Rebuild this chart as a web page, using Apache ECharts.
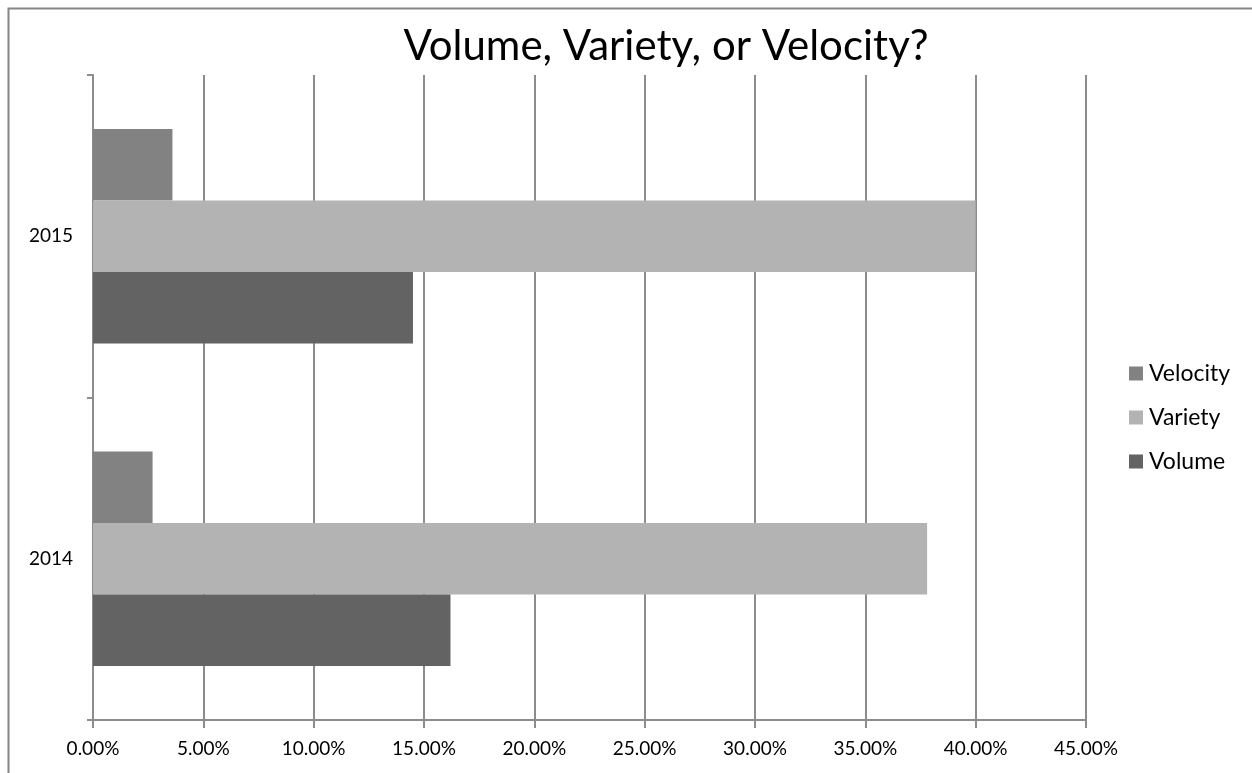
<!DOCTYPE html>
<html>
<head>
<meta charset="utf-8">
<script src="https://cdn.jsdelivr.net/npm/echarts@6/dist/echarts.min.js"></script>
<style>
  html, body { margin: 0; padding: 0; background: #fff; }
  #chart { width: 1252px; height: 773px; }
</style>
</head>
<body>
<div id="chart"></div>
<script>
// Survey shares (percent) per year
const years = ['2014', '2015'];
const volume = [16.2, 14.5];
const variety = [37.8, 40.0];
const velocity = [2.7, 3.6];
const legendOrder = ['Velocity', 'Variety', 'Volume'];

const FONT = 'Lato, "Open Sans", sans-serif';
const AXIS_GREY = '#8c8c8c';

const chart = echarts.init(document.getElementById('chart'), null, { renderer: 'canvas' });

chart.setOption({
  backgroundColor: '#ffffff',
  animation: false,
  title: {
    text: 'Volume, Variety, or Velocity?',
    left: 666,
    textAlign: 'center',
    top: 25,
    padding: 0,
    textStyle: { fontFamily: FONT, fontSize: 42, fontWeight: 'normal', color: '#000' }
  },
  graphic: [{
    type: 'rect',
    shape: { x: 8.5, y: 8.5, width: 1300, height: 800 },
    style: { fill: 'none', stroke: '#868686', lineWidth: 2 },
    silent: true
  }],
  legend: {
    orient: 'vertical',
    left: 1124,
    top: 357,
    itemWidth: 14,
    itemHeight: 14,
    itemGap: 21,
    icon: 'rect',
    data: legendOrder,
    textStyle: { fontFamily: FONT, fontSize: 23, color: '#000', padding: [0, 0, 0, 1] }
  },
  grid: { left: 93, top: 75, right: 166, bottom: 53, containLabel: false },
  xAxis: {
    type: 'value',
    min: 0,
    max: 45,
    interval: 5,
    axisLine: { show: true, lineStyle: { color: AXIS_GREY, width: 2 } },
    axisTick: { show: true, length: 8, lineStyle: { color: AXIS_GREY, width: 2 } },
    splitLine: { show: true, lineStyle: { color: AXIS_GREY, width: 2 } },
    axisLabel: {
      margin: 19,
      fontFamily: FONT,
      fontSize: 19,
      color: '#000',
      formatter: v => v.toFixed(2) + '%'
    }
  },
  yAxis: {
    type: 'category',
    data: years,
    axisLine: { show: true, lineStyle: { color: AXIS_GREY, width: 2 } },
    axisTick: { show: true, length: 6, lineStyle: { color: AXIS_GREY, width: 2 } },
    axisLabel: { margin: 20, fontFamily: FONT, fontSize: 19, color: '#000' },
    splitLine: { show: false }
  },
  series: [
    { name: 'Velocity', type: 'bar', data: velocity, itemStyle: { color: '#828282' },
      barGap: '0%', barCategoryGap: '33.5%' },
    { name: 'Variety', type: 'bar', data: variety, itemStyle: { color: '#b3b3b3' },
      barGap: '0%', barCategoryGap: '33.5%' },
    { name: 'Volume', type: 'bar', data: volume, itemStyle: { color: '#636363' },
      barGap: '0%', barCategoryGap: '33.5%' }
  ]
});
</script>
</body>
</html>
